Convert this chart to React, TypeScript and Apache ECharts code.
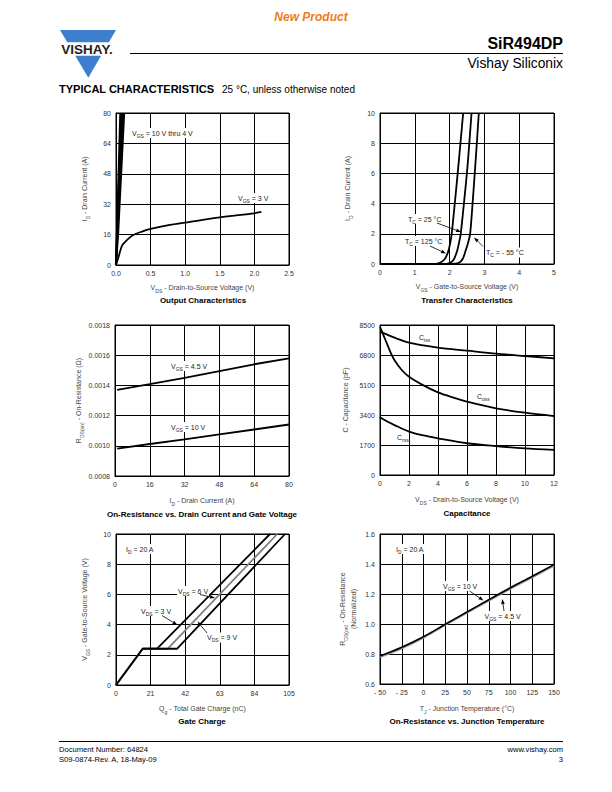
import React, { useEffect, useRef } from "react";
import * as echarts from "echarts";

const FONT = "'Liberation Sans', Arial, Helvetica, sans-serif";

// ---------- Output Characteristics (ID vs VDS) ----------
const outVgs10 = [[0, 0], [0.062, 80]];
const outVgs6 = [[0, 0], [0.078, 80]];
const outVgs5 = [[0, 0], [0.096, 80]];
const outVgs4 = [[0, 0.5], [0.03, 16], [0.118, 80]];
const outVgs3 = [[0, 0], [0.038, 4.4], [0.087, 10.2], [0.16, 13.2], [0.25, 15.8], [0.375, 17.6], [0.5, 19], [0.78, 21.1], [1.0, 22.3], [1.5, 25.1], [2.0, 27.2], [2.1, 27.9]];

// ---------- Transfer Characteristics (ID vs VGS) ----------
const tr125 = [[0, 0], [1.5, 0], [1.7, 0.06], [1.85, 0.3], [1.95, 0.75], [2.01, 1.3], [2.06, 2], [2.14, 3.8], [2.22, 5.7], [2.3, 7.7], [2.39, 10]];
const tr25 = [[0, 0], [1.8, 0], [2.0, 0.06], [2.12, 0.3], [2.22, 0.9], [2.27, 1.4], [2.32, 2], [2.42, 4.2], [2.52, 6.6], [2.63, 10]];
const trM55 = [[0, 0], [2.05, 0], [2.25, 0.06], [2.38, 0.35], [2.47, 0.95], [2.53, 1.4], [2.59, 2], [2.66, 4], [2.75, 6.9], [2.84, 10]];

// ---------- RDS(on) vs ID ----------
const rdsId45 = [[1, 0.00137], [16, 0.001408], [32, 0.00145], [48, 0.001495], [64, 0.00154], [80, 0.001579]];
const rdsId10 = [[1, 0.000981], [16, 0.001012], [32, 0.001042], [48, 0.001075], [64, 0.001108], [80, 0.001141]];

// ---------- Capacitance ----------
const ciss = [[0, 8120], [0.5, 7950], [1, 7780], [2, 7500], [3, 7340], [4, 7215], [6, 7045], [8, 6876], [10, 6743], [12, 6611]];
const coss = [[0, 8400], [0.25, 7900], [0.5, 7400], [0.75, 6900], [1, 6500], [1.5, 5950], [2, 5570], [3, 5080], [4, 4680], [5, 4400], [6, 4160], [8, 3780], [10, 3530], [12, 3340]];
const crss = [[0, 3270], [0.5, 3030], [1, 2830], [2, 2460], [3, 2240], [4, 2080], [6, 1800], [8, 1640], [10, 1510], [12, 1420]];

// ---------- Gate Charge ----------
const qg3 = [[0, 0], [16.2, 2.4], [24.8, 2.4], [93.5, 10]];
const qg6 = [[0, 0], [16.2, 2.4], [31.3, 2.4], [97.9, 10]];
const qg9 = [[0, 0], [16.2, 2.4], [37, 2.4], [102.6, 10]];

// ---------- RDS(on) vs TJ ----------
const rdsT10 = [[-50, 0.786], [-25, 0.845], [0, 0.915], [25, 0.998], [50, 1.08], [75, 1.162], [100, 1.242], [125, 1.318], [150, 1.396]];
const rdsT45 = [[-50, 0.78], [-25, 0.838], [0, 0.91], [25, 0.994], [50, 1.076], [75, 1.157], [100, 1.236], [125, 1.312], [150, 1.39]];

// ---------- Axis ranges ----------
const axes = [
  { grid: [116, 113, 173, 152], x: [0, 2.5, 0.5], y: [0, 80, 16], xDec: 1, yDec: 0 },
  { grid: [380, 113, 174, 151], x: [0, 5, 1], y: [0, 10, 2], xDec: 0, yDec: 0 },
  { grid: [115, 325, 174, 151], x: [0, 80, 16], y: [0.0008, 0.0018, 0.0002], xDec: 0, yDec: 4 },
  { grid: [380, 325, 174, 150], x: [0, 12, 2], y: [0, 8500, 1700], xDec: 0, yDec: 0 },
  { grid: [116, 534, 173, 151], x: [0, 105, 21], y: [0, 10, 2], xDec: 0, yDec: 0 },
  { grid: [380, 534, 174, 150], x: [-50, 150, 25], y: [0.6, 1.6, 0.2], xDec: 0, yDec: 1 },
];

const xNames = [
  "{n|V}{s|DS}{n| - Drain-to-Source Voltage (V)}",
  "{n|V}{s|GS}{n| - Gate-to-Source Voltage (V)}",
  "{n|I}{s|D}{n| - Drain Current (A)}",
  "{n|V}{s|DS}{n| - Drain-to-Source Voltage (V)}",
  "{n|Q}{s|g}{n| - Total Gate Charge (nC)}",
  "{n|T}{s|J}{n| - Junction Temperature (°C)}",
];
const yNames = [
  "{n|I}{s|D}{n| - Drain Current (A)}",
  "{n|I}{s|D}{n| - Drain Current (A)}",
  "{n|R}{s|DS(on)}{n| - On-Resistance (Ω)}",
  "{n|C - Capacitance (pF)}",
  "{n|V}{s|GS}{n| - Gate-to-Source Voltage (V)}",
  "{n|R}{s|DS(on)}{n| - On-Resistance}\n{n|(Normalized)}",
];
const xGaps = [17, 17, 19, 19, 18, 19];
const yGaps = [26, 27, 31, 29, 26, 21];
const titles = [
  { t: "Output Characteristics", x: 203, y: 300 },
  { t: "Transfer Characteristics", x: 467, y: 300 },
  { t: "On-Resistance vs. Drain Current and Gate Voltage", x: 202, y: 514 },
  { t: "Capacitance", x: 467, y: 513 },
  { t: "Gate Charge", x: 202, y: 721 },
  { t: "On-Resistance vs. Junction Temperature", x: 467, y: 721 },
];

const richName = {
  n: { fontSize: 7, lineHeight: 11, fontFamily: FONT, color: "#444" },
  s: { fontSize: 5, lineHeight: 11, verticalAlign: "bottom", fontFamily: FONT, color: "#444" },
};
const richAnn = {
  n: { fontSize: 7, lineHeight: 10, fontFamily: FONT, fill: "#222", color: "#222" },
  s: { fontSize: 5, lineHeight: 10, verticalAlign: "bottom", fontFamily: FONT, fill: "#222", color: "#222" },
};

function fmtTick(dec: number, minus: boolean) {
  return (v: number) => {
    const s = Math.abs(v).toFixed(dec);
    if (v < 0) return minus ? "- " + s : "-" + s;
    return s;
  };
}

function ann(text: string, x: number, y: number, bg = true) {
  return {
    type: "text",
    x,
    y,
    z: 10,
    style: {
      text,
      rich: richAnn,
      fontSize: 7,
      fontFamily: FONT,
      fill: "#222",
      textAlign: "left",
      textVerticalAlign: "middle",
      backgroundColor: bg ? "#fff" : "transparent",
      padding: [0, 1],
    },
  };
}

function plain(text: string, x: number, y: number, size: number, opts: any = {}) {
  return {
    type: "text",
    x,
    y,
    z: 10,
    style: {
      text,
      fontSize: size,
      fontFamily: FONT,
      fontWeight: opts.bold ? "bold" : "normal",
      fontStyle: opts.italic ? "italic" : "normal",
      fill: opts.color || "#000",
      textAlign: opts.align || "left",
      textVerticalAlign: "middle",
    },
  };
}

function arrow(x1: number, y1: number, x2: number, y2: number) {
  const dx = x2 - x1;
  const dy = y2 - y1;
  const len = Math.sqrt(dx * dx + dy * dy);
  const ux = dx / len;
  const uy = dy / len;
  const bx = x2 - ux * 5;
  const by = y2 - uy * 5;
  const nx = -uy * 1.8;
  const ny = ux * 1.8;
  return [
    { type: "line", z: 11, shape: { x1, y1, x2: bx, y2: by }, style: { stroke: "#000", lineWidth: 0.8 } },
    { type: "polygon", z: 11, shape: { points: [[x2, y2], [bx + nx, by + ny], [bx - nx, by - ny]] }, style: { fill: "#000" } },
  ];
}

function line(idx: number, data: number[][], width: number, color = "#000", smooth: any = false) {
  return {
    type: "line",
    xAxisIndex: idx,
    yAxisIndex: idx,
    data,
    symbol: "none",
    showSymbol: false,
    smooth,
    lineStyle: { color, width },
    z: 5,
    clip: true,
  };
}

export default function App() {
  const ref = useRef<HTMLDivElement>(null);
  useEffect(() => {
    if (!ref.current) return;
    const chart = echarts.init(ref.current, undefined, { renderer: "svg" });

    const grid = axes.map((a) => ({
      left: a.grid[0],
      top: a.grid[1],
      width: a.grid[2],
      height: a.grid[3],
      show: true,
      borderColor: "#000",
      borderWidth: 1,
      backgroundColor: "transparent",
      containLabel: false,
    }));

    const xAxis = axes.map((a, i) => ({
      gridIndex: i,
      type: "value",
      min: a.x[0],
      max: a.x[1],
      interval: a.x[2],
      axisLine: { show: true, onZero: false, lineStyle: { color: "#000", width: 1 } },
      axisTick: { show: false },
      splitLine: { show: true, lineStyle: { color: "#000", width: 1 } },
      axisLabel: { fontSize: 7, color: "#333", fontFamily: FONT, margin: 5, formatter: fmtTick(a.xDec, i === 5) },
      name: xNames[i],
      nameLocation: "middle",
      nameGap: xGaps[i],
      nameTextStyle: { rich: richName, fontSize: 7, fontFamily: FONT, color: "#444" },
    }));

    const yAxis = axes.map((a, i) => ({
      gridIndex: i,
      type: "value",
      min: a.y[0],
      max: a.y[1],
      interval: a.y[2],
      axisLine: { show: true, onZero: false, lineStyle: { color: "#000", width: 1 } },
      axisTick: { show: false },
      splitLine: { show: true, lineStyle: { color: "#000", width: 1 } },
      axisLabel: { fontSize: 7, color: "#333", fontFamily: FONT, margin: 5, formatter: fmtTick(a.yDec, false) },
      name: yNames[i],
      nameLocation: "middle",
      nameGap: yGaps[i],
      nameRotate: 90,
      nameTextStyle: { rich: richName, fontSize: 7, fontFamily: FONT, color: "#444", align: "center" },
    }));

    const series = [
      line(0, outVgs10, 2),
      line(0, outVgs6, 2),
      line(0, outVgs5, 2),
      line(0, outVgs4, 2),
      line(0, outVgs3, 1.8, "#000", 0.3),
      line(1, tr125, 1.8, "#000", 0.25),
      line(1, tr25, 1.8, "#000", 0.25),
      line(1, trM55, 1.8, "#000", 0.25),
      line(2, rdsId45, 1.8),
      line(2, rdsId10, 1.8),
      line(3, ciss, 1.8, "#000", 0.3),
      line(3, coss, 1.8, "#000", 0.3),
      line(3, crss, 1.8, "#000", 0.3),
      line(4, qg3, 1.8),
      line(4, qg6, 1.8, "#808080"),
      line(4, qg9, 1.8),
      line(5, rdsT45, 2.2, "#999", 0.3),
      line(5, rdsT10, 1.6, "#000", 0.3),
    ];

    const graphic: any[] = [
      // header
      plain("New Product", 311, 17, 12, { bold: true, italic: true, color: "#f07a24", align: "center" }),
      { type: "polygon", z: 1, shape: { points: [[60, 30], [116, 30], [88.3, 77.7]] }, style: { fill: "#3d7fcf" } },
      { type: "rect", z: 2, shape: { x: 52, y: 42.3, width: 70, height: 13.4 }, style: { fill: "#fff" } },
      {
        type: "text",
        x: 87,
        y: 49.2,
        z: 3,
        style: { text: "VISHAY.", fontSize: 13.5, fontWeight: "bold", fontFamily: FONT, fill: "#231f20", textAlign: "center", textVerticalAlign: "middle" },
      },
      { type: "line", z: 1, shape: { x1: 130, y1: 53.5, x2: 563, y2: 53.5 }, style: { stroke: "#000", lineWidth: 1 } },
      plain("SiR494DP", 563, 43, 16, { bold: true, align: "right" }),
      plain("Vishay Siliconix", 563, 63, 13.8, { align: "right" }),
      plain("TYPICAL CHARACTERISTICS", 59, 89, 11, { bold: true }),
      plain("25 °C, unless otherwise noted", 222, 89, 10),
      // footer
      { type: "line", z: 1, shape: { x1: 59, y1: 741.5, x2: 563, y2: 741.5 }, style: { stroke: "#000", lineWidth: 1 } },
      plain("Document Number: 64824", 59, 749, 7.6),
      plain("S09-0874-Rev. A, 18-May-09", 59, 759, 7.6),
      plain("www.vishay.com", 563, 749, 7.6, { align: "right" }),
      plain("3", 563, 759, 7.6, { align: "right" }),
      // chart titles
      ...titles.map((t) => plain(t.t, t.x, t.y, 8, { bold: true, align: "center" })),
      // annotations chart 1
      ann("{n|V}{s|GS}{n| = 10 V thru 4 V}", 131, 133),
      ann("{n|V}{s|GS}{n| = 3 V}", 237, 198),
      // chart 2
      ann("{n|T}{s|C}{n| = 25 °C}", 407, 219),
      ...arrow(437, 223, 461, 232),
      ann("{n|T}{s|C}{n| = 125 °C}", 404, 241),
      ...arrow(430, 246, 446, 253.5),
      ann("{n|T}{s|C}{n| = - 55 °C}", 485, 252.5),
      ...arrow(483, 246.5, 474, 237.5),
      // chart 3
      ann("{n|V}{s|GS}{n| = 4.5 V}", 170, 366),
      ann("{n|V}{s|GS}{n| = 10 V}", 170, 427),
      // chart 4
      ann("{n|C}{s|iss}", 418, 337),
      ann("{n|C}{s|oss}", 476, 396),
      ann("{n|C}{s|rss}", 396, 437, false),
      // chart 5
      ann("{n|I}{s|D}{n| = 20 A}", 125, 549),
      ann("{n|V}{s|DS}{n| = 6 V}", 177, 591),
      ...arrow(200, 594.5, 215, 598),
      ann("{n|V}{s|DS}{n| = 3 V}", 140, 611),
      ...arrow(162, 615.5, 177.5, 625),
      ann("{n|V}{s|DS}{n| = 9 V}", 206, 637.5),
      ...arrow(207, 633, 197.5, 621.5),
      // chart 6
      ann("{n|I}{s|D}{n| = 20 A}", 395, 549),
      ann("{n|V}{s|GS}{n| = 10 V}", 442, 586),
      ...arrow(469.5, 591, 483.5, 600.5),
      ann("{n|V}{s|GS}{n| = 4.5 V}", 483.5, 616),
      ...arrow(504, 611, 502.3, 599),
    ];

    chart.setOption({
      animation: false,
      backgroundColor: "#fff",
      textStyle: { fontFamily: FONT },
      grid,
      xAxis,
      yAxis,
      series,
      graphic,
    });
    return () => chart.dispose();
  }, []);
  return <div ref={ref} style={{ position: "absolute", left: 0, top: 0, width: 612, height: 792 }} />;
}
